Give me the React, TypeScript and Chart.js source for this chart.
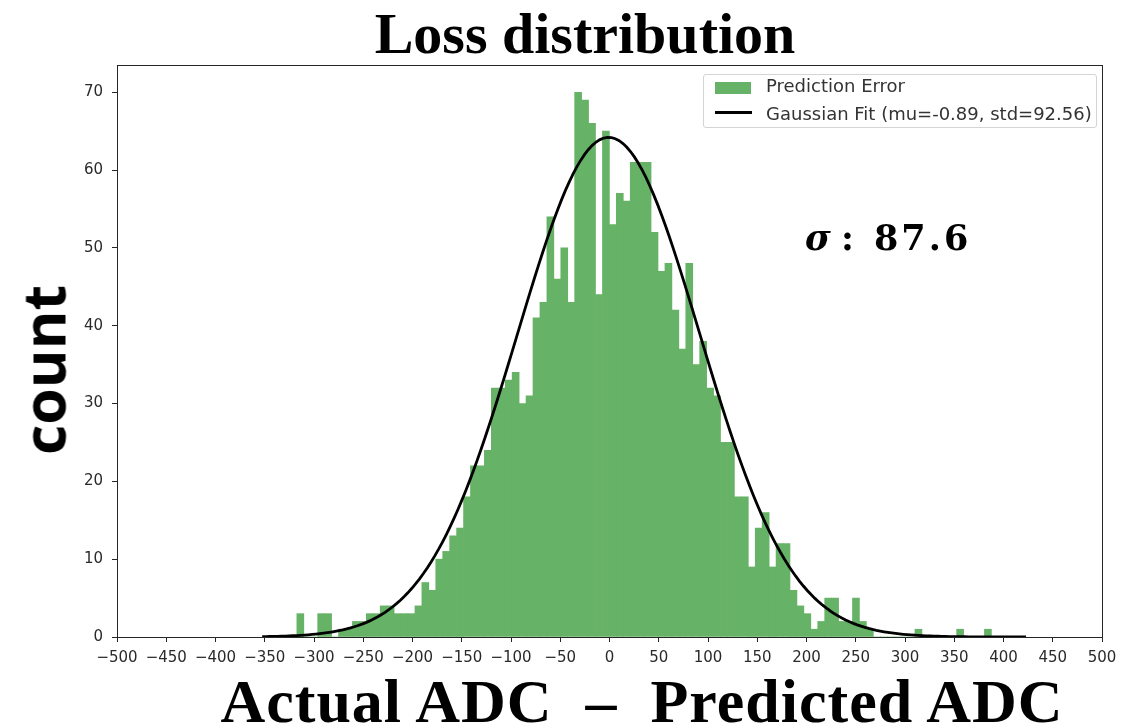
import React, { useEffect, useRef } from "react";
import { Chart, registerables } from "chart.js";

Chart.register(...registerables);

// Histogram: 100 equal bins between the data minimum and maximum
const BIN_START = -317.4;
const BIN_WIDTH = 7.051;
const counts = [
  3, 0, 0, 3, 3, 0, 1, 1, 2, 2,
  3, 3, 4, 4, 3, 3, 3, 4, 7, 6,
  10, 11, 13, 14, 18, 22, 22, 24, 32, 32,
  33, 34, 30, 31, 41, 43, 54, 46, 50, 43,
  70, 69, 66, 44, 65, 53, 57, 56, 61, 61,
  61, 52, 47, 48, 42, 37, 48, 35, 38, 32,
  31, 25, 25, 18, 18, 9, 14, 16, 9, 12,
  12, 6, 4, 3, 1, 2, 5, 5, 2, 2,
  5, 2, 1, 0, 0, 0, 0, 0, 0, 1,
  0, 0, 0, 0, 0, 1, 0, 0, 0, 1,
];

// Gaussian fit parameters (from legend) and plotted range / peak height
const FIT_MU = -0.89;
const FIT_STD = 92.56;
const FIT_PEAK = 64.2;
const FIT_MIN = -352.6;
const FIT_MAX = 422.9;
const FIT_SAMPLES = 200;

const xTicks = [-500, -450, -400, -350, -300, -250, -200, -150, -100, -50, 0, 50, 100, 150, 200, 250, 300, 350, 400, 450, 500];
const yTicks = [0, 10, 20, 30, 40, 50, 60, 70];

const TITLE = "Loss distribution";
const X_LABEL = "Actual ADC  \u2013  Predicted ADC";
const Y_LABEL = "count";
const SERIES_HIST = "Prediction Error";
const SERIES_FIT = `Gaussian Fit (mu=${FIT_MU}, std=${FIT_STD})`;
const SIGMA_VALUE = "87.6";

const GREEN = "#66b266";
const W = 1139;
const H = 725;

export default function App() {
  const ref = useRef<HTMLCanvasElement | null>(null);

  useEffect(() => {
    const canvas = ref.current;
    if (!canvas) return;
    const histData = counts.map((c, i) => ({ x: BIN_START + BIN_WIDTH * (i + 0.5), y: c }));
    const fitData: { x: number; y: number }[] = [];
    for (let i = 0; i < FIT_SAMPLES; i++) {
      const x = FIT_MIN + ((FIT_MAX - FIT_MIN) * i) / (FIT_SAMPLES - 1);
      const z = (x - FIT_MU) / FIT_STD;
      fitData.push({ x, y: FIT_PEAK * Math.exp(-0.5 * z * z) });
    }

    const frame = {
      id: "frame",
      afterDraw(chart: any) {
        const { ctx, chartArea } = chart;
        ctx.save();
        ctx.strokeStyle = "#262626";
        ctx.lineWidth = 1;
        ctx.strokeRect(
          Math.round(chartArea.left) + 0.5,
          Math.round(chartArea.top) + 0.5,
          Math.round(chartArea.right - chartArea.left),
          Math.round(chartArea.bottom - chartArea.top)
        );
        ctx.restore();
      },
    };

    const tickFont = { family: "DejaVu Sans", size: 15 };

    const chart = new Chart(canvas, {
      type: "bar",
      data: {
        datasets: [
          {
            type: "line",
            label: SERIES_FIT,
            data: fitData,
            borderColor: "#000000",
            borderWidth: 2.8,
            pointRadius: 0,
            tension: 0,
            fill: false,
            order: 0,
          } as any,
          {
            type: "bar",
            label: SERIES_HIST,
            data: histData,
            backgroundColor: GREEN,
            borderWidth: 0,
            barPercentage: 1,
            categoryPercentage: 1,
            order: 1,
          } as any,
        ],
      },
      options: {
        animation: false,
        responsive: false,
        devicePixelRatio: 1,
        layout: { padding: { left: 0, right: 37, top: 65, bottom: 0 } },
        plugins: {
          legend: { display: false },
          tooltip: { enabled: false },
          title: { display: false },
        },
        scales: {
          x: {
            type: "linear",
            min: -500,
            max: 500,
            offset: false,
            afterFit: (s: any) => {
              s.height = H - 637;
            },
            afterBuildTicks: (s: any) => {
              s.ticks = xTicks.map((v) => ({ value: v }));
            },
            ticks: {
              autoSkip: false,
              maxRotation: 0,
              padding: 7,
              color: "#2a2a2a",
              font: tickFont,
              callback: (v: any) => (Number(v) < 0 ? "\u2212" + Math.abs(Number(v)) : String(v)),
            },
            grid: {
              display: true,
              offset: false,
              drawOnChartArea: false,
              drawTicks: true,
              tickLength: 5,
              color: "#262626",
            },
            border: { display: true, color: "#262626" },
          },
          y: {
            type: "linear",
            min: 0,
            max: 73.5,
            afterFit: (s: any) => {
              s.width = 117;
            },
            afterBuildTicks: (s: any) => {
              s.ticks = yTicks.map((v) => ({ value: v }));
            },
            ticks: {
              padding: 9,
              color: "#2a2a2a",
              font: tickFont,
            },
            grid: {
              display: true,
              drawOnChartArea: false,
              drawTicks: true,
              tickLength: 5,
              color: "#262626",
            },
            border: { display: true, color: "#262626" },
          },
        },
      } as any,
      plugins: [frame],
    });

    return () => chart.destroy();
  }, []);

  const sigmaFont = {
    position: "absolute" as const,
    top: 220,
    fontFamily: "'DejaVu Serif', serif",
    fontWeight: 700,
    fontSize: 35,
    lineHeight: 1,
    whiteSpace: "pre" as const,
    color: "#000",
  };

  return (
    <div style={{ position: "absolute", left: 0, top: 0, width: W, height: H, background: "#ffffff", overflow: "hidden" }}>
      <canvas ref={ref} width={W} height={H} style={{ position: "absolute", left: 0, top: 0, width: W, height: H }} />
      <div
        style={{
          position: "absolute",
          left: 585,
          top: 5,
          transform: "translateX(-50%)",
          fontFamily: "'Liberation Serif', 'Times New Roman', serif",
          fontWeight: 700,
          fontSize: 58,
          lineHeight: 1,
          whiteSpace: "pre",
          color: "#000",
        }}
      >
        {TITLE}
      </div>
      <div
        style={{
          position: "absolute",
          left: 642,
          top: 670,
          transform: "translateX(-50%)",
          fontFamily: "'Liberation Serif', 'Times New Roman', serif",
          fontWeight: 700,
          fontSize: 62,
          letterSpacing: 1,
          lineHeight: 1,
          whiteSpace: "pre",
          color: "#000",
        }}
      >
        {X_LABEL}
      </div>
      <div
        style={{
          position: "absolute",
          left: 42.5,
          top: 370,
          transform: "translate(-50%, -50%) rotate(-90deg)",
          fontFamily: "'Open Sans', 'Noto Sans', sans-serif",
          fontWeight: 700,
          fontSize: 59,
          lineHeight: 1,
          whiteSpace: "pre",
          color: "#000",
        }}
      >
        {Y_LABEL}
      </div>
      <div style={{ ...sigmaFont, left: 805, fontStyle: "italic" }}>σ</div>
      <div style={{ ...sigmaFont, left: 841 }}>:</div>
      <div style={{ ...sigmaFont, left: 874, letterSpacing: 3 }}>{SIGMA_VALUE}</div>
      <div
        style={{
          position: "absolute",
          left: 703,
          top: 74,
          width: 394,
          height: 54,
          boxSizing: "border-box",
          border: "1px solid #d4d4d4",
          borderRadius: 3,
          background: "rgba(255,255,255,0.85)",
          fontFamily: "'DejaVu Sans', sans-serif",
          fontSize: 18,
          color: "#333",
        }}
      >
        <div style={{ position: "absolute", left: 11, top: 7, width: 36, height: 12, background: GREEN }} />
        <div style={{ position: "absolute", left: 62, top: 0, lineHeight: "22px", whiteSpace: "pre" }}>{SERIES_HIST}</div>
        <div style={{ position: "absolute", left: 11, top: 36, width: 37, height: 2.6, background: "#000" }} />
        <div style={{ position: "absolute", left: 62, top: 28, lineHeight: "22px", whiteSpace: "pre" }}>{SERIES_FIT}</div>
      </div>
    </div>
  );
}
